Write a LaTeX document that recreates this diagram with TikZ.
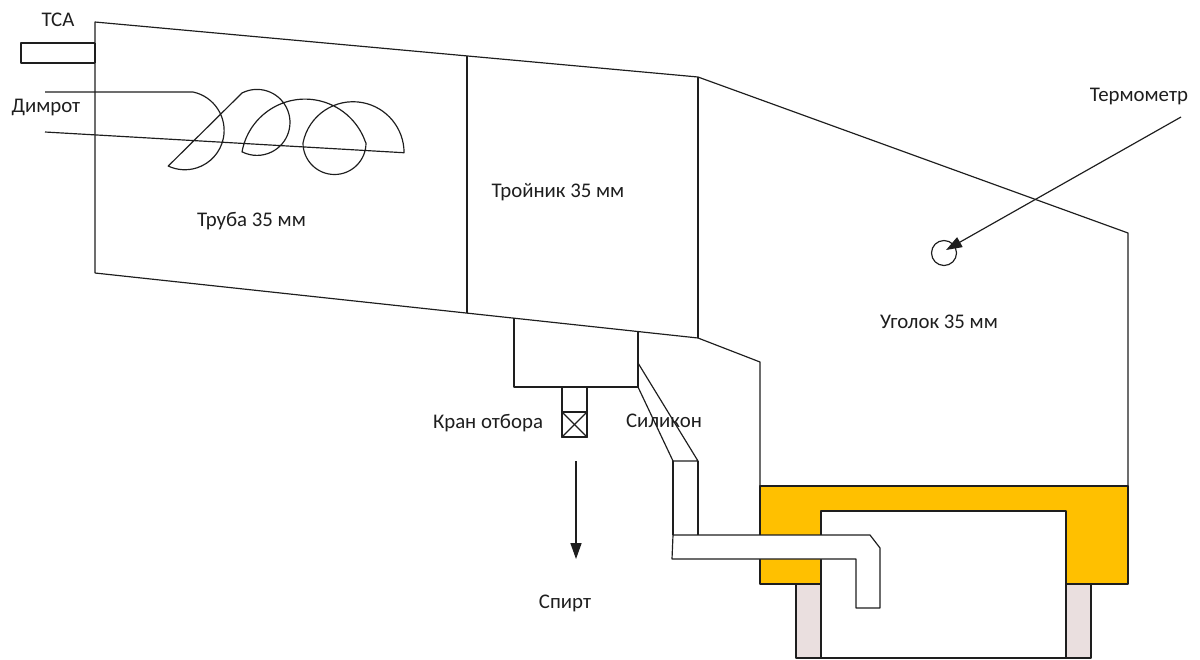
\documentclass[tikz,border=0pt]{standalone}
\usepackage{fontspec}
\setmainfont{Carlito}
\usetikzlibrary{arrows.meta}
\definecolor{wallyellow}{HTML}{FFC000}
\definecolor{legpink}{HTML}{EADFDF}
\definecolor{inkline}{HTML}{1E1E1E}

\begin{document}
\begin{tikzpicture}[
  x=0.72pt, y=-0.72pt,
  font=\fontsize{15}{17}\selectfont,
  every path/.style={line width=0.85pt, draw=inkline, line join=round},
  lbl/.style={text=inkline, inner sep=0pt, draw=none},
  valvebox/.style={draw, rectangle, inner sep=0pt, minimum width=18pt, minimum height=18pt},
  flowarrow/.style={-{Triangle[length=11.5pt,width=8pt]}},
  >=Stealth
]
\useasboundingbox[draw=none] (0,0) rectangle (1200,659);

%% --- lower casing ---
\draw[fill=legpink] (796,584) rectangle (821,658);
\draw[fill=legpink] (1066,584) rectangle (1091,658);
\draw (821,658) -- (1066,658);
\draw[fill=wallyellow] (760,486) -- (1128,486) -- (1128,584) -- (1066,584)
  -- (1066,511) -- (821,511) -- (821,584) -- (760,584) -- cycle;

%% --- pipe body ---
\draw (95,273) -- (95,22) -- (698,77) -- (1128,233) -- (1128,486);
\draw (95,273) -- (698,338) -- (760,362) -- (760,486);
\draw (467,56) -- (467,313);
\draw (698,77) -- (698,338);

%% --- TCA sleeve ---
\draw (95,43) -- (21,43) -- (21,63) -- (95,63);
\draw[line width=1.5pt] (95,43) -- (95,63);

%% --- coil ---
\draw (45,92) -- (193,92) arc[start angle=-78, end angle=115, radius=39.3]
  -- (242,93) arc[start angle=-117, end angle=117, radius=33]
  -- (242,152) arc[start angle=-170, end angle=-19, radius=64]
  -- (366,143) arc[start angle=0, end angle=180, radius=31.5]
  -- (303,143) arc[start angle=-169, end angle=0, radius=51]
  -- (45,132);

%% --- take-off and valve ---
\draw (514,318) -- (514,387) -- (638,387) -- (638,331);
\draw (562,387) -- (562,412);
\draw (587,387) -- (587,412);
\node[valvebox] (valve) at (574.5,424.5) {};
\draw (valve.north west) -- (valve.south east);
\draw (valve.north east) -- (valve.south west);

%% --- silicone hose ---
\draw (638,363) -- (698,461) -- (673,461) -- (638,387);
\draw (673,461) -- (673,535);
\draw (698,461) -- (698,535);
\draw[fill=white] (673,535) -- (870,535) -- (880,548) -- (880,608) -- (856,608)
  -- (856,559) -- (672,559) -- cycle;

%% --- thermometer ---
\node[draw, circle, inner sep=0pt, minimum size=18pt] (therm) at (944,253) {};
\coordinate (thermtail) at (1181,117);
\coordinate (thermtip) at (946,250);
\draw[flowarrow] (thermtail) -- (thermtip);

%% --- outflow ---
\coordinate (flowtop) at (576,461);
\coordinate (flowend) at (576,559);
\draw[flowarrow] (flowtop) -- (flowend);

%% --- labels ---
\node[lbl] (tca) at (58,20) {ТСА};
\node[lbl] (dimrot) at (46,107) {Димрот};
\node[lbl] (truba) at (251.5,221) {Труба 35 мм};
\node[lbl] (troynik) at (558,192) {Тройник 35 мм};
\node[lbl] (ugolok) at (939,322) {Уголок 35 мм};
\node[lbl] (termometr) at (1139,96) {Термометр};
\node[lbl] (kran) at (488,423) {Кран отбора};
\node[lbl] (silikon) at (664,421) {Силикон};
\node[lbl] (spirt) at (565,603) {Спирт};
\end{tikzpicture}
\end{document}
